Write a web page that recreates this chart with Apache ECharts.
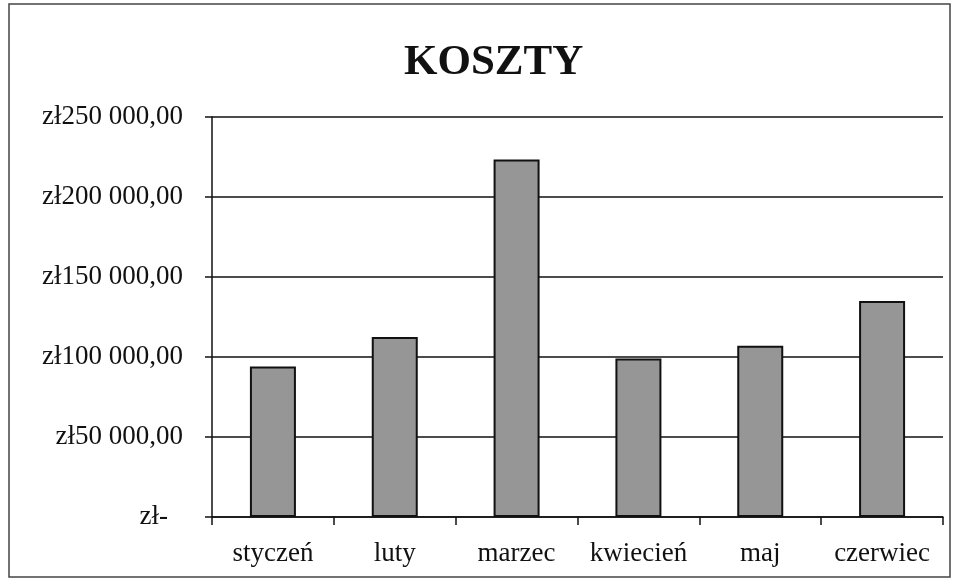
<!DOCTYPE html>
<html>
<head>
<meta charset="utf-8">
<script src="https://cdn.jsdelivr.net/npm/echarts@6/dist/echarts.min.js"></script>
<style>
  html, body { margin: 0; padding: 0; background: #fff; }
  #chart { width: 959px; height: 581px; }
</style>
</head>
<body>
<div id="chart"></div>
<script>
  // dane
  var months = ['styczeń', 'luty', 'marzec', 'kwiecień', 'maj', 'czerwiec'];
  var costs = [94000, 112500, 223500, 99000, 107000, 135000];
  var yMax = 250000;
  var yStep = 50000;

  var serif = '"Liberation Serif", "DejaVu Serif", serif';

  function zl(v) {
    if (v === 0) return '{z|zł-}';
    var s = String(Math.round(v)).replace(/\B(?=(\d{3})+(?!\d))/g, ' ');
    return 'zł' + s + ',00';
  }

  var chart = echarts.init(document.getElementById('chart'));
  var option = {
    backgroundColor: '#fff',
    animation: false,
    title: {
      text: 'KOSZTY',
      left: 399,
      top: 36,
      textStyle: { fontFamily: serif, fontWeight: 'bold', fontSize: 43, color: '#111' }
    },
    graphic: [{
      type: 'rect',
      shape: { x: 9, y: 4, width: 941, height: 573 },
      style: { fill: 'none', stroke: '#444', lineWidth: 1.5 },
      silent: true
    }],
    grid: { left: 212, right: 16, top: 117, bottom: 64 },
    xAxis: {
      type: 'category',
      data: months,
      axisLine: { lineStyle: { color: '#111', width: 1.5 } },
      axisTick: { show: true, interval: 0, length: 8, lineStyle: { color: '#111', width: 1.5 } },
      axisLabel: { interval: 0, fontFamily: serif, fontSize: 27, color: '#111', margin: 23 }
    },
    yAxis: {
      type: 'value',
      min: 0,
      max: yMax,
      interval: yStep,
      axisLine: { show: true, lineStyle: { color: '#111', width: 1.5 } },
      axisTick: { show: true, length: 7, lineStyle: { color: '#111', width: 1.5 } },
      axisLabel: {
        fontFamily: serif, fontSize: 27, color: '#111', margin: 29,
        formatter: zl,
        rich: { z: { fontFamily: serif, fontSize: 27, color: '#111', padding: [0, 15, 0, 0] } }
      },
      splitLine: { lineStyle: { color: '#111', width: 1.5 } }
    },
    series: [{
      type: 'bar',
      data: costs,
      barWidth: 46,
      itemStyle: { color: '#969696', borderColor: '#111', borderWidth: 2 }
    }]
  };
  chart.setOption(option);
</script>
</body>
</html>
